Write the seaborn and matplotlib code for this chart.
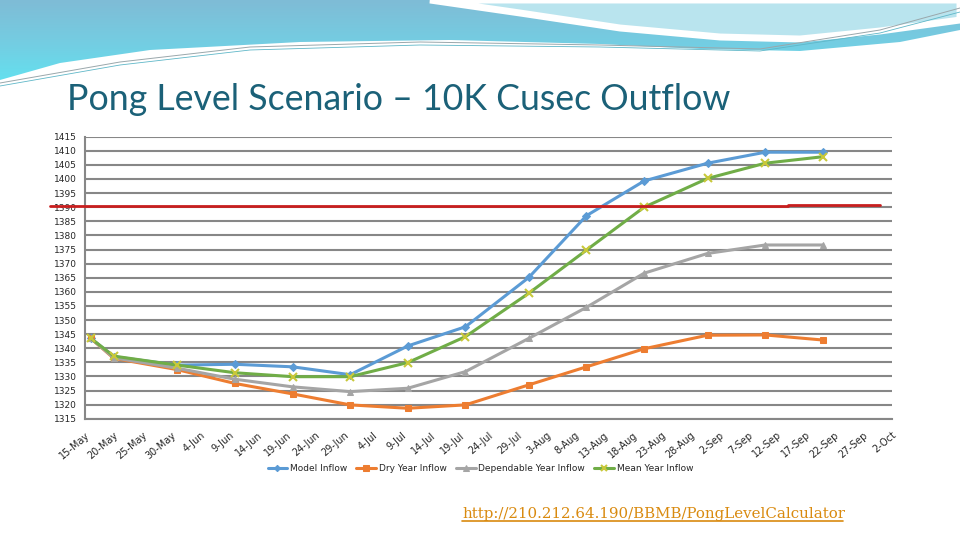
import numpy as np
import pandas as pd
import seaborn as sns
import matplotlib.pyplot as plt
from matplotlib.colors import LinearSegmentedColormap
from matplotlib.patches import Polygon

YEAR = 2014

# observation dates (day-Mon)
obs_dates = ['16-May', '20-May', '31-May', '10-Jun', '20-Jun', '30-Jun', '10-Jul',
             '20-Jul', '31-Jul', '10-Aug', '20-Aug', '31-Aug', '10-Sep', '20-Sep']

model_inflow = [1343.5, 1337.0, 1334.0, 1334.3, 1333.4, 1330.6, 1340.8,
                1347.6, 1365.1, 1387.0, 1399.3, 1405.6, 1409.5, 1409.5]
dry_inflow = [1343.5, 1336.4, 1332.4, 1327.5, 1323.8, 1319.9, 1318.7,
              1319.9, 1327.0, 1333.4, 1339.8, 1344.6, 1344.7, 1342.9]
dependable_inflow = [1343.5, 1336.6, 1332.9, 1329.0, 1326.3, 1324.6, 1325.8,
                     1331.7, 1343.5, 1354.5, 1366.6, 1373.6, 1376.6, 1376.6]
mean_inflow = [1343.5, 1337.2, 1334.0, 1331.3, 1329.9, 1329.9, 1334.9,
               1344.1, 1359.5, 1374.8, 1390.0, 1400.2, 1405.6, 1407.9]

series_names = ['Model Inflow', 'Dry Year Inflow', 'Dependable Year Inflow', 'Mean Year Inflow']

tick_labels = ['15-May', '20-May', '25-May', '30-May', '4-Jun', '9-Jun', '14-Jun', '19-Jun',
               '24-Jun', '29-Jun', '4-Jul', '9-Jul', '14-Jul', '19-Jul', '24-Jul', '29-Jul',
               '3-Aug', '8-Aug', '13-Aug', '18-Aug', '23-Aug', '28-Aug', '2-Sep', '7-Sep',
               '12-Sep', '17-Sep', '22-Sep', '27-Sep', '2-Oct']

# red reference level line
red_x = ['9-May', '14-Sep', '14-Sep', '30-Sep']
red_y = [1390.3, 1390.3, 1390.8, 1390.8]


def to_dates(labels):
    return pd.to_datetime([f'{s}-{YEAR}' for s in labels], format='%d-%b-%Y')


dates = to_dates(obs_dates)
ticks = to_dates(tick_labels)

df = pd.DataFrame({
    'date': list(dates) * 4,
    'level': model_inflow + dry_inflow + dependable_inflow + mean_inflow,
    'series': np.repeat(series_names, len(dates)),
})

styles = {
    'Model Inflow': dict(color='#5b9bd5', marker='D', markersize=4, mec='#5b9bd5', mfc='#5b9bd5'),
    'Dry Year Inflow': dict(color='#ed7d31', marker='s', markersize=5, mec='#ed7d31', mfc='#ed7d31'),
    'Dependable Year Inflow': dict(color='#a5a5a5', marker='^', markersize=5, mec='#a5a5a5', mfc='#a5a5a5'),
    'Mean Year Inflow': dict(color='#70ad47', marker='x', markersize=6, mec='#c8c83a', mew=1.5),
}

sns.set_style('white')
plt.rcParams['font.family'] = ['DejaVu Sans']

fig = plt.figure(figsize=(9.6, 5.4), dpi=100)

# decorative banner in the background
bg = fig.add_axes([0, 0, 1, 1], zorder=-10)
bg.set_xlim(0, 960)
bg.set_ylim(540, 0)
bg.axis('off')
edge = [(0, 80), (60, 63), (150, 50), (300, 42), (450, 40), (600, 44), (700, 49),
        (800, 51), (900, 42), (960, 30)]
blue_poly = Polygon([(0, 0)] + edge + [(960, 0)], closed=True, facecolor='none', edgecolor='none')
bg.add_patch(blue_poly)
grad = np.linspace(0, 1, 100).reshape(-1, 1)
cmap = LinearSegmentedColormap.from_list('banner', ['#7fbcd6', '#74cde2', '#62e2f0'])
img = bg.imshow(grad, extent=(0, 960, 85, 0), cmap=cmap, aspect='auto', zorder=1)
img.set_clip_path(blue_poly)
light = [(430, 0), (520, 13), (620, 28), (720, 37), (800, 39), (880, 31), (960, 20), (960, 0)]
bg.add_patch(Polygon(light, closed=True, facecolor='#b9e4ee', edgecolor='white', lw=5, zorder=2))
bg.plot([0, 120, 250, 420, 600, 760, 880, 960], [83, 62, 47, 42, 45, 49, 30, 8],
        color='#9aa7ab', lw=0.7, zorder=3)
bg.plot([0, 120, 250, 420, 600, 760, 880, 960], [86, 65, 50, 45, 47, 51, 33, 12],
        color='#5fb7c8', lw=0.6, zorder=3)

fig.text(67 / 960, 1 - 110 / 540, 'Pong Level Scenario \u2013 10K Cusec Outflow',
         fontsize=25.7, color='#1b6178', family='Lato', va='baseline')

ax = fig.add_axes([85 / 960, 1 - 418.7 / 540, 807 / 960, 282 / 540])
ax.patch.set_alpha(0)

for name in series_names:
    sub = df[df['series'] == name]
    sns.lineplot(data=sub, x='date', y='level', ax=ax, label=name, lw=2.2, zorder=3,
                 **styles[name])

ax.plot(to_dates(red_x), red_y, color='#c81e1e', lw=2, clip_on=False, zorder=4)

ax.set_xlim(ticks[0], ticks[-1])
ax.set_ylim(1315, 1415)
ax.set_yticks(np.arange(1315, 1416, 5))
ax.set_xticks(ticks)
ax.set_xticklabels(tick_labels, rotation=40, ha='right', rotation_mode='anchor', fontsize=7)
ax.tick_params(axis='y', labelsize=6.5, length=4, color='#878787', width=1.2, pad=2)
ax.tick_params(axis='x', length=4, color='#878787', width=1.2, pad=4)
ax.grid(axis='y', color='#878787', lw=1.5)
ax.grid(axis='x', visible=False)
ax.set_xlabel('')
ax.set_ylabel('')
for s in ['top', 'right']:
    ax.spines[s].set_visible(False)
for s in ['left', 'bottom']:
    ax.spines[s].set_color('#878787')
    ax.spines[s].set_linewidth(1.5)

ax.legend(loc='center', bbox_to_anchor=(0.49, -0.178), ncol=4, frameon=False,
          fontsize=6.5, handlelength=2.2, columnspacing=1.0, handletextpad=0.3,
          markerscale=0.8)

fig.text(462 / 960, 1 - 518 / 540, 'http://210.212.64.190/BBMB/PongLevelCalculator',
         fontsize=10.8, color='#d98a0f', family='DejaVu Serif', va='baseline')
fig.lines.append(plt.Line2D([462 / 960, 843 / 960], [1 - 521 / 540, 1 - 521 / 540],
                            color='#d98a0f', lw=1.2, transform=fig.transFigure))

fig.savefig('out.png', dpi=100)
